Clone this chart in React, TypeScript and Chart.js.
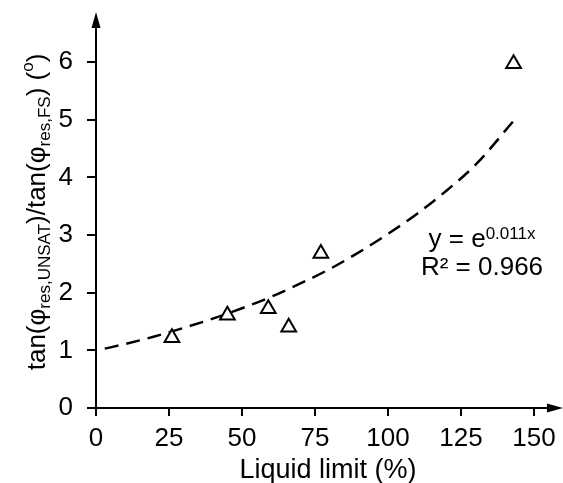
import React, { useEffect, useRef } from "react";
import { Chart, registerables } from "chart.js";

Chart.register(...registerables);

const liquidLimit = [26, 45, 59, 66, 77, 143];
const ratio = [1.22, 1.61, 1.72, 1.40, 2.68, 5.97];

const trendX = [3, 10, 20, 30, 40, 50, 60, 70, 80, 90, 100, 110, 120, 130, 143];
const trendY = [1.03, 1.11, 1.24, 1.39, 1.55, 1.73, 1.93, 2.16, 2.41, 2.7, 3.02, 3.37, 3.77, 4.22, 4.98];

const xTicks = [0, 25, 50, 75, 100, 125, 150];
const yTicks = [0, 1, 2, 3, 4, 5, 6];

const FONT = "'Liberation Sans', Arial, sans-serif";

function drawRuns(ctx: CanvasRenderingContext2D, runs: { t: string; size: number; dy: number }[], cx: number, baseY: number) {
  let total = 0;
  for (const r of runs) {
    ctx.font = `${r.size}px ${FONT}`;
    total += ctx.measureText(r.t).width;
  }
  let x = cx - total / 2;
  ctx.textAlign = "left";
  ctx.textBaseline = "alphabetic";
  for (const r of runs) {
    ctx.font = `${r.size}px ${FONT}`;
    ctx.fillText(r.t, x, baseY + r.dy);
    x += ctx.measureText(r.t).width;
  }
}

const overlay = {
  id: "overlay",
  afterDraw(chart: any) {
    const ctx: CanvasRenderingContext2D = chart.ctx;
    const { left, bottom } = chart.chartArea;
    ctx.save();
    ctx.strokeStyle = "#000";
    ctx.fillStyle = "#000";
    ctx.lineWidth = 2;
    // y axis with arrow
    ctx.beginPath();
    ctx.moveTo(left, bottom + 1);
    ctx.lineTo(left, 26);
    ctx.stroke();
    ctx.beginPath();
    ctx.moveTo(left, 12);
    ctx.lineTo(left - 4.5, 28);
    ctx.lineTo(left + 4.5, 28);
    ctx.closePath();
    ctx.fill();
    // x axis with arrow
    ctx.beginPath();
    ctx.moveTo(left - 9, bottom);
    ctx.lineTo(550, bottom);
    ctx.stroke();
    ctx.beginPath();
    ctx.moveTo(563, bottom);
    ctx.lineTo(547, bottom - 4.5);
    ctx.lineTo(547, bottom + 4.5);
    ctx.closePath();
    ctx.fill();

    // x title
    drawRuns(ctx, [{ t: "Liquid limit (%)", size: 27, dy: 0 }], 328, 478);

    // y title (rotated)
    ctx.save();
    ctx.translate(45, 212);
    ctx.rotate(-Math.PI / 2);
    drawRuns(
      ctx,
      [
        { t: "tan(φ", size: 26, dy: 0 },
        { t: "res,UNSAT", size: 17, dy: 5 },
        { t: ")/tan(φ", size: 26, dy: 0 },
        { t: "res,FS", size: 17, dy: 5 },
        { t: ") (", size: 26, dy: 0 },
        { t: "o", size: 17, dy: -12 },
        { t: ")", size: 26, dy: 0 },
      ],
      0,
      0
    );
    ctx.restore();

    // equation
    drawRuns(
      ctx,
      [
        { t: "y = e", size: 26, dy: 0 },
        { t: "0.011x", size: 17, dy: -8 },
      ],
      482,
      247
    );
    drawRuns(ctx, [{ t: "R² = 0.966", size: 26, dy: 0 }], 482, 275);
    ctx.restore();
  },
};

export default function App() {
  const ref = useRef<HTMLCanvasElement | null>(null);
  useEffect(() => {
    if (!ref.current) return;
    const chart = new Chart(ref.current, {
      type: "scatter",
      data: {
        datasets: [
          {
            label: "data",
            data: liquidLimit.map((x, i) => ({ x, y: ratio[i] })),
            pointStyle: "triangle",
            pointRadius: 8.5,
            pointBorderWidth: 2,
            pointBackgroundColor: "#fff",
            pointBorderColor: "#000",
            showLine: false,
            order: 0,
          },
          {
            label: "trend",
            data: trendX.map((x, i) => ({ x, y: trendY[i] })),
            showLine: true,
            pointRadius: 0,
            borderColor: "#000",
            borderWidth: 2.5,
            borderDash: [14, 8],
            tension: 0.4,
            cubicInterpolationMode: "monotone",
            fill: false,
            order: 1,
          } as any,
        ],
      },
      options: {
        animation: false,
        responsive: false,
        devicePixelRatio: 1,
        layout: { padding: { top: 16, right: 29, left: 0, bottom: 0 } },
        plugins: { legend: { display: false }, tooltip: { enabled: false } },
        scales: {
          x: {
            type: "linear",
            min: 0,
            max: 150,
            afterBuildTicks: (s: any) => {
              s.ticks = xTicks.map((v) => ({ value: v }));
            },
            afterFit: (s: any) => {
              s.height = 75;
              s.paddingLeft = 0;
              s.paddingRight = 0;
            },
            border: { display: false },
            grid: { drawOnChartArea: false, drawTicks: true, tickLength: 8, color: "#000", lineWidth: 2 },
            ticks: { color: "#000", font: { family: FONT, size: 26 }, padding: 7, maxRotation: 0 },
          },
          y: {
            type: "linear",
            min: 0,
            max: 6.8,
            afterBuildTicks: (s: any) => {
              s.ticks = yTicks.map((v) => ({ value: v }));
            },
            afterFit: (s: any) => {
              s.width = 96;
              s.paddingTop = 0;
              s.paddingBottom = 0;
            },
            border: { display: false },
            grid: { drawOnChartArea: false, drawTicks: true, tickLength: 9, color: "#000", lineWidth: 2 },
            ticks: { color: "#000", font: { family: FONT, size: 26 }, padding: 14 },
          },
        },
      },
      plugins: [overlay],
    });
    return () => chart.destroy();
  }, []);
  return (
    <div style={{ position: "fixed", left: 0, top: 0, width: 563, height: 483, background: "#fff" }}>
      <canvas ref={ref} width={563} height={483} style={{ width: 563, height: 483, display: "block" }} />
    </div>
  );
}
